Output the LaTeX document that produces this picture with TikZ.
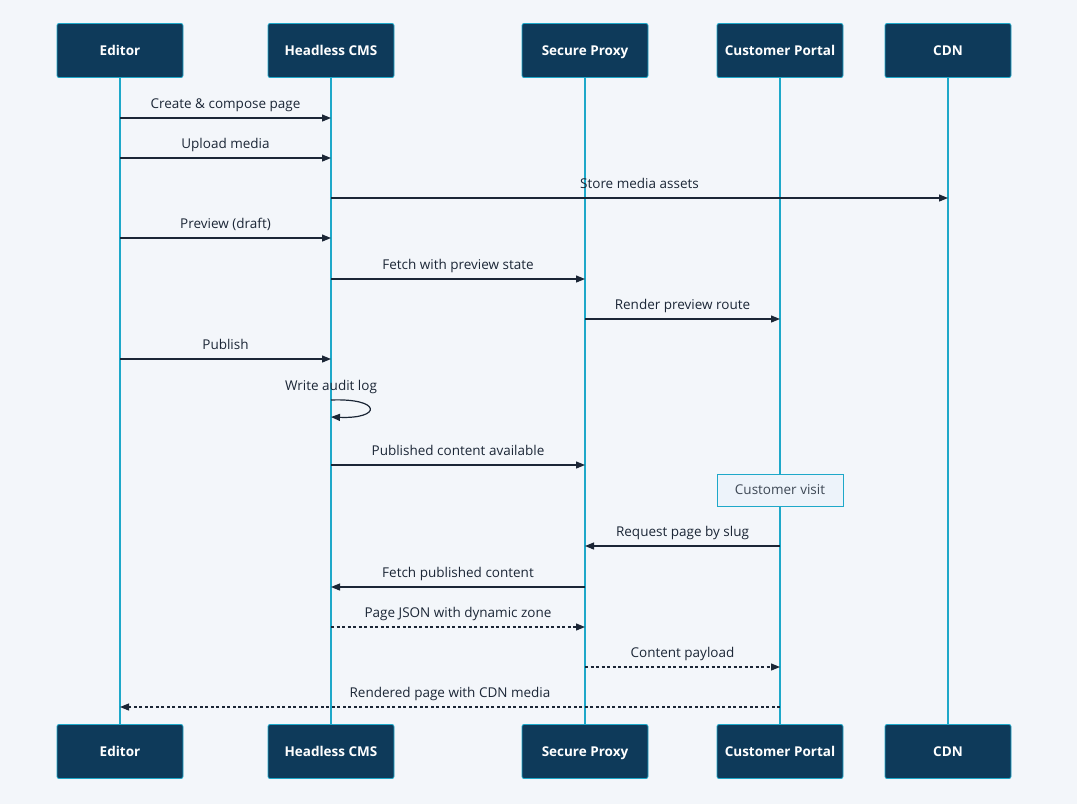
\documentclass[tikz,border=0pt]{standalone}
\usepackage{fontspec}
\setmainfont{Open Sans}
\usepackage{tikz}
\usetikzlibrary{arrows.meta,positioning}
\definecolor{navy}{HTML}{0E3A5A}
\definecolor{cyanline}{HTML}{1EA8C9}
\definecolor{ink}{HTML}{1B2636}
\definecolor{pagebg}{HTML}{F3F6FA}
\definecolor{notefill}{HTML}{EDF3FA}

\begin{document}
\begin{tikzpicture}[x=1pt,y=-1pt,
			actor/.style={draw=cyanline,thick,fill=navy,rounded corners=2pt,minimum width=126pt,minimum height=54pt,inner sep=0pt,outer sep=0pt,text height=10.5pt,text depth=0pt,align=center,font=\fontsize{13.5}{15}\selectfont\bfseries,text=white},
			note/.style={draw=cyanline,fill=notefill,minimum width=126pt,minimum height=32pt,inner sep=0pt,font=\fontsize{13.5}{15}\selectfont,text=ink!85},
			life/.style={cyanline,line width=1.5pt},
			msg/.style={-{Triangle[length=9pt,width=7pt]},line width=1.2pt,ink},
			reply/.style={msg,dash pattern=on 3pt off 2.5pt},
			lbl/.style={anchor=base,yshift=10pt,font=\fontsize{13.5}{15}\selectfont,text=ink}
			]
			\fill[pagebg] (0,0) rectangle (1077,804);
			\useasboundingbox (0,0) rectangle (1077,804);
			% participants, top row
			\node[actor] (ed) at (120,50.5) {Editor};
			\node[actor] (cms) [right=85pt of ed] {Headless CMS};
			\node[actor] (proxy) [right=128pt of cms] {Secure Proxy};
			\node[actor] (portal) [right=69pt of proxy] {Customer Portal};
			\node[actor] (cdn) [right=42pt of portal] {CDN};
			% bottom row
			\node[actor] (edB) [below=647pt of ed] {Editor};
			\node[actor] (cmsB) [below=647pt of cms] {Headless CMS};
			\node[actor] (proxyB) [below=647pt of proxy] {Secure Proxy};
			\node[actor] (portalB) [below=647pt of portal] {Customer Portal};
			\node[actor] (cdnB) [below=647pt of cdn] {CDN};
			% lifelines
			\draw[life] (ed) -- (edB);
			\draw[life] (cms) -- (cmsB);
			\draw[life] (proxy) -- (proxyB);
			\draw[life] (portal) -- (portalB);
			\draw[life] (cdn) -- (cdnB);
			% messages
			\draw[msg] (ed |- 0,118) -- node[lbl]{Create \& compose page} (cms |- 0,118);
			\draw[msg] (ed |- 0,158) -- node[lbl]{Upload media} (cms |- 0,158);
			\draw[msg] (cms |- 0,198) -- node[lbl]{Store media assets} (cdn |- 0,198);
			\draw[msg] (ed |- 0,238) -- node[lbl]{Preview (draft)} (cms |- 0,238);
			\draw[msg] (cms |- 0,279) -- node[lbl]{Fetch with preview state} (proxy |- 0,279);
			\draw[msg] (proxy |- 0,319) -- node[lbl]{Render preview route} (portal |- 0,319);
			\draw[msg] (ed |- 0,359) -- node[lbl]{Publish} (cms |- 0,359);
			\draw[msg] (cms |- 0,400) node[lbl]{Write audit log}
				.. controls +(51,-2) and +(51,2) .. (cms |- 0,417);
			\draw[msg] (cms |- 0,465) -- node[lbl]{Published content available} (proxy |- 0,465);
			\node[note] (visit) at (portal |- 0,490) {Customer visit};
			\draw[msg] (portal |- 0,546) -- node[lbl]{Request page by slug} (proxy |- 0,546);
			\draw[msg] (proxy |- 0,587) -- node[lbl]{Fetch published content} (cms |- 0,587);
			\draw[reply] (cms |- 0,627) -- node[lbl]{Page JSON with dynamic zone} (proxy |- 0,627);
			\draw[reply] (proxy |- 0,667) -- node[lbl]{Content payload} (portal |- 0,667);
			\draw[reply] (portal |- 0,707) -- node[lbl]{Rendered page with CDN media} (ed |- 0,707);
		\end{tikzpicture}
\end{document}
